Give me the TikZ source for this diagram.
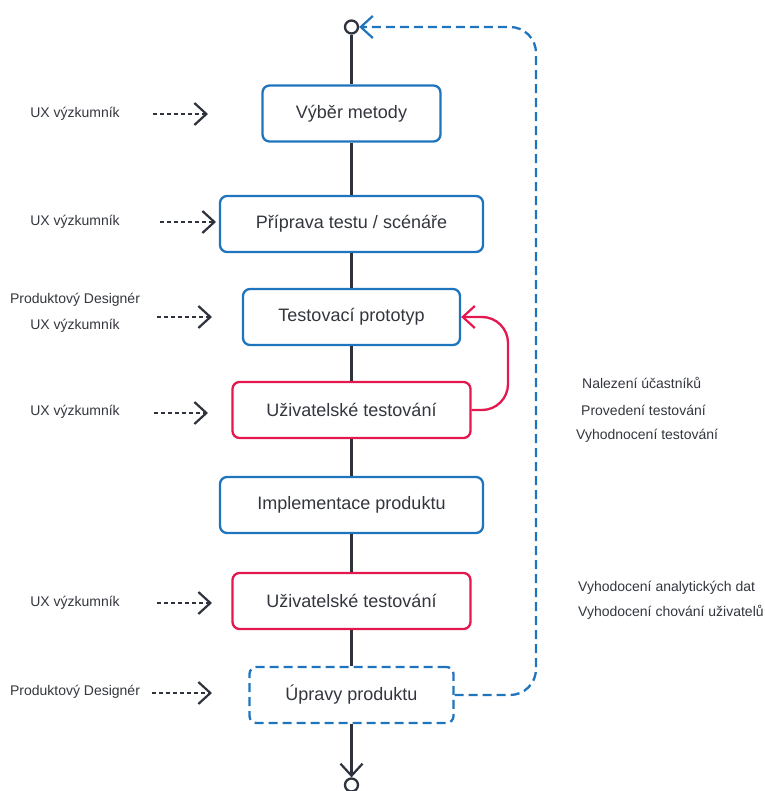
\documentclass[tikz,border=0pt]{standalone}
\usepackage{fontspec}
\setmainfont{Liberation Sans}
\usetikzlibrary{arrows.meta}
\definecolor{flowblue}{HTML}{1F74BE}
\definecolor{flowred}{HTML}{E5174F}
\definecolor{spine}{HTML}{2E323C}
\definecolor{txt}{HTML}{33363D}
\begin{document}
\begin{tikzpicture}[x=1pt,y=-1pt,
  stage/.style={draw=flowblue,line width=2.3pt,rounded corners=7pt,fill=white,
    minimum height=56pt,text=txt,font=\fontsize{18}{20}\selectfont,inner sep=0pt},
  teststage/.style={stage,draw=flowred},
  editstage/.style={stage,dash pattern=on 9pt off 5pt},
  role/.style={text=txt,font=\fontsize{14}{16}\selectfont,inner sep=0pt},
  note/.style={text=txt,font=\fontsize{14}{16}\selectfont,inner sep=0pt,anchor=west},
  terminal/.style={circle,draw=spine,line width=2.3pt,fill=white,minimum size=13pt,inner sep=0pt},
  chev/.style={-{Straight Barb[length=12pt,width=22pt,line width=2.2pt]}},
  roleflow/.style={chev,draw=spine,line width=2pt,dash pattern=on 4pt off 3pt},
  spineline/.style={draw=spine,line width=3pt}
]
\useasboundingbox (0,0) rectangle (764,791);

% terminals of the main flow
\node[terminal] (top) at (351.5,27) {};

% stages
\node[stage,minimum width=178pt] (b1) at (351.5,113.5) {Výběr metody};
\node[stage,minimum width=263pt] (b2) at (351.5,224) {Příprava testu / scénáře};
\node[stage,minimum width=217pt] (b3) at (351.5,317) {Testovací prototyp};
\node[teststage,minimum width=238pt] (b4) at (351.5,410) {Uživatelské testování};
\node[stage,minimum width=263pt] (b5) at (351.5,505) {Implementace produktu};
\node[teststage,minimum width=238pt] (b6) at (351.5,601) {Uživatelské testování};
\node[editstage,minimum width=204pt] (b7) at (351.5,695) {Úpravy produktu};

% main flow
\draw[spineline] (top) -- (b1);
\draw[spineline] (b1) -- (b2);
\draw[spineline] (b2) -- (b3);
\draw[spineline] (b3) -- (b4);
\draw[spineline] (b4) -- (b5);
\draw[spineline] (b5) -- (b6);
\draw[spineline] (b6) -- (b7);
\node[terminal] (end) at (351.5,785) {};
\draw[spineline,chev] (b7) -- (end);

% iteration loop from testing back to the prototype
\coordinate (loopc) at (508,317);
\draw[flowred,line width=2.3pt,rounded corners=26pt,chev] (b4.east) -| (loopc) -- (b3.east);

% feedback from product edits back to the start
\coordinate (fbc) at (536,27);
\draw[flowblue,line width=2.3pt,dash pattern=on 9pt off 5pt,rounded corners=26pt,chev]
  (b7.east) -| (fbc) -- (top);

% roles
\node[role] (r1) at (75,114) {UX výzkumník};
\coordinate (a1) at (208,114);
\draw[roleflow] (153,114) -- (a1);
\node[role] (r2) at (75,222) {UX výzkumník};
\coordinate (a2) at (216,222);
\draw[roleflow] (160,222) -- (a2);
\node[role] (r3a) at (75,300) {Produktový Designér};
\node[role] (r3b) at (75,326) {UX výzkumník};
\coordinate (a3) at (212,317);
\draw[roleflow] (157,317) -- (a3);
\node[role] (r4) at (75,412) {UX výzkumník};
\coordinate (a4) at (208,413);
\draw[roleflow] (154,413) -- (a4);
\node[role] (r5) at (75,603) {UX výzkumník};
\coordinate (a5) at (212,603);
\draw[roleflow] (157,603) -- (a5);
\node[role] (r6) at (75,692) {Produktový Designér};
\coordinate (a6) at (212,693);
\draw[roleflow] (152,693) -- (a6);

% notes on the right
\node[note] (n1) at (582,383) {Nalezení účastníků};
\node[note] (n2) at (581,410) {Provedení testování};
\node[note] (n3) at (576,436) {Vyhodnocení testování};
\node[note] (n4) at (578,588) {Vyhodocení analytických dat};
\node[note] (n5) at (578,612) {Vyhodocení chování uživatelů};
\end{tikzpicture}
\end{document}
